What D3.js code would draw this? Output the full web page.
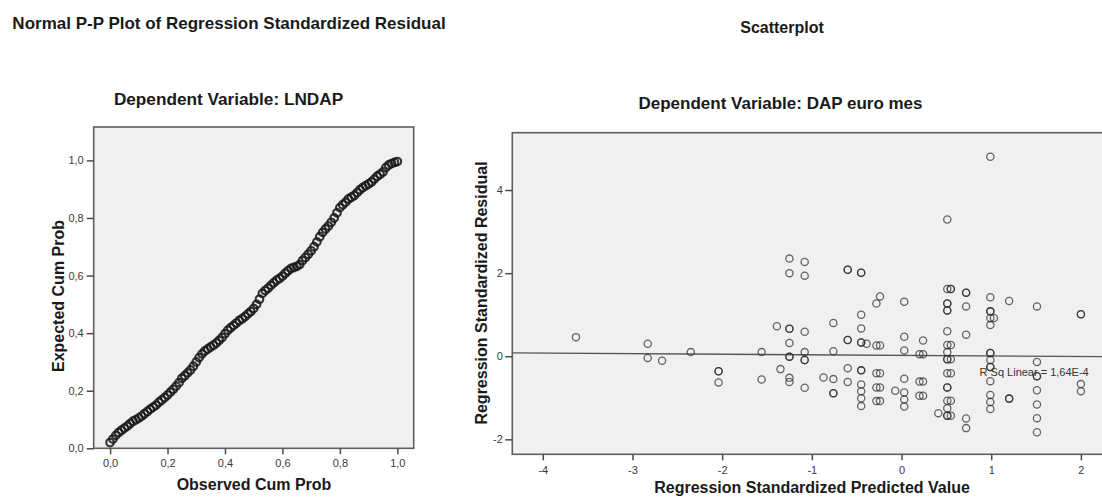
<!DOCTYPE html>
<html><head><meta charset="utf-8">
<script src="https://cdn.jsdelivr.net/npm/d3@7"></script>
<style>
body{margin:0;background:#fff;}
svg{display:block;}
text{font-family:"Liberation Sans",Arial,sans-serif;}
</style></head>
<body>
<svg id="c" width="1102" height="497"></svg>
<script>
// ---------- Data ----------
const ppTitle = "Normal P-P Plot of Regression Standardized Residual";
const ppSubtitle = "Dependent Variable: LNDAP";
const ppXLabel = "Observed Cum Prob";
const ppYLabel = "Expected Cum Prob";
const ppTicks = [0, 0.2, 0.4, 0.6, 0.8, 1.0];
const ppObserved = [0.00,0.01,0.02,0.03,0.04,0.05,0.06,0.07,0.08,0.09,0.10,0.11,0.12,0.13,0.14,0.15,0.16,0.17,0.18,0.19,0.20,0.21,0.22,0.23,0.24,0.25,0.26,0.27,0.28,0.29,0.30,0.31,0.32,0.33,0.34,0.35,0.36,0.37,0.38,0.39,0.40,0.41,0.42,0.43,0.44,0.45,0.46,0.47,0.48,0.49,0.50,0.51,0.52,0.53,0.54,0.55,0.56,0.57,0.58,0.59,0.60,0.61,0.62,0.63,0.64,0.65,0.66,0.67,0.68,0.69,0.70,0.71,0.72,0.73,0.74,0.75,0.76,0.77,0.78,0.79,0.80,0.81,0.82,0.83,0.84,0.85,0.86,0.87,0.88,0.89,0.90,0.91,0.92,0.93,0.94,0.95,0.96,0.97,0.98,0.99,1.00];
const ppExpected = [0.020,0.032,0.045,0.055,0.063,0.070,0.077,0.086,0.094,0.099,0.105,0.112,0.120,0.128,0.136,0.143,0.150,0.160,0.168,0.176,0.185,0.195,0.205,0.216,0.228,0.243,0.252,0.262,0.272,0.285,0.300,0.315,0.328,0.338,0.345,0.352,0.358,0.366,0.375,0.385,0.398,0.410,0.419,0.427,0.435,0.444,0.450,0.458,0.467,0.475,0.486,0.500,0.518,0.538,0.548,0.556,0.566,0.575,0.584,0.590,0.598,0.608,0.617,0.625,0.628,0.632,0.638,0.652,0.663,0.674,0.686,0.700,0.717,0.735,0.750,0.762,0.772,0.785,0.800,0.818,0.836,0.846,0.855,0.866,0.872,0.878,0.888,0.898,0.906,0.912,0.918,0.925,0.935,0.945,0.952,0.960,0.975,0.984,0.989,0.993,0.996];

const scTitle = "Scatterplot";
const scSubtitle = "Dependent Variable: DAP euro mes";
const scXLabel = "Regression Standardized Predicted Value";
const scYLabel = "Regression Standardized Residual";
const scXTicks = [-4, -3, -2, -1, 0, 1, 2];
const scYTicks = [-2, 0, 2, 4];
const scPredicted = [-3.63,-2.83,-2.83,-2.67,-2.35,-2.04,-2.04,-2.04,-1.56,-1.56,-1.39,-1.35,
 -1.25,-1.25,-1.25,-1.25,-1.25,-1.25,-1.25,-1.25,-1.25,
 -1.08,-1.08,-1.08,-1.08,-1.08,-1.08,-1.08,-0.87,
 -0.76,-0.76,-0.76,-0.76,-0.76,
 -0.60,-0.60,-0.60,-0.60,-0.60,-0.60,
 -0.45,-0.45,-0.45,-0.45,-0.45,-0.45,-0.39,-0.45,-0.45,-0.45,-0.45,-0.45,-0.45,
 -0.28,-0.24,-0.28,-0.24,-0.28,-0.24,-0.28,-0.24,-0.28,-0.24,-0.07,
 0.03,0.03,0.03,0.03,0.03,0.03,0.03,
 0.20,0.24,0.24,0.20,0.24,0.20,0.24,0.41,
 0.51,0.51,0.55,0.55,0.51,0.51,0.51,0.51,0.51,0.51,0.55,0.51,0.51,0.51,0.55,0.51,0.55,0.51,0.51,0.51,0.55,0.51,0.51,0.51,0.55,
 0.72,0.72,0.72,0.72,0.72,0.72,
 0.99,0.99,0.99,0.99,0.99,1.03,0.99,0.99,0.99,0.99,0.99,0.99,0.99,0.99,0.99,0.99,
 1.20,1.20,1.20,
 1.51,1.51,1.51,1.51,1.51,1.51,1.51,1.51,
 2.00,2.00,2.00,2.00];
const scResidual = [0.46,0.30,-0.04,-0.11,0.10,-0.36,-0.36,-0.63,0.10,-0.56,0.72,-0.31,
 2.35,2.00,0.66,0.66,0.32,-0.01,-0.01,-0.52,-0.62,
 2.27,1.94,0.59,0.10,-0.09,-0.09,-0.76,-0.51,
 0.80,0.12,-0.55,-0.89,-0.89,
 2.08,2.08,0.39,0.39,-0.29,-0.62,
 2.01,2.01,1.00,0.67,0.33,0.33,0.30,-0.34,-0.34,-0.68,-0.84,-1.01,-1.20,
 1.27,1.44,0.26,0.26,-0.41,-0.41,-0.75,-0.75,-1.08,-1.08,-0.83,
 1.31,0.47,0.14,-0.54,-0.87,-1.04,-1.21,
 0.05,0.05,0.38,-0.61,-0.61,-0.95,-0.95,-1.37,
 3.29,1.62,1.62,1.62,1.27,1.27,1.10,1.10,0.60,0.27,0.27,0.10,-0.07,-0.07,-0.07,-0.41,-0.41,-0.75,-0.75,-1.07,-1.07,-1.25,-1.43,-1.43,-1.43,
 1.53,1.53,1.20,0.52,-1.50,-1.73,
 4.80,1.42,1.08,1.08,0.92,0.92,0.75,0.08,0.08,-0.09,-0.26,-0.26,-0.60,-0.93,-1.10,-1.27,
 1.33,-1.02,-1.02,
 1.20,-0.14,-0.48,-0.48,-0.82,-1.16,-1.49,-1.83,
 1.01,1.01,-0.67,-0.84];
const fitIntercept = 0.02;
const fitSlope = -0.014;
const fitLabel = "R Sq Linear = 1,64E-4";

// ---------- Drawing ----------
const svg = d3.select("#c");
const loc = d3.formatLocale({decimal: ",", thousands: ".", grouping: [3], currency: ["", ""], minus: "-"});
const fmt1 = loc.format(".1f");
const fmt0 = loc.format("d");
const BG = "#f0f0f0", BORDER = "#5e5e5e", TICKTXT = "#3a3a3a";

function styleAxis(g){
  g.select(".domain").remove();
  g.selectAll(".tick line").attr("stroke", "#4a4a4a").attr("stroke-width", 1.5);
  g.selectAll(".tick text").attr("fill", TICKTXT).style("font-size", "11px");
}

// ===== Left: P-P plot =====
const ppX = d3.scaleLinear().domain([-0.057, 1.057]).range([93.7, 413.7]);
const ppY = d3.scaleLinear().domain([0, 1.116]).range([448.3, 127]);

svg.append("text").attr("x", 229).attr("y", 29).attr("text-anchor", "middle")
  .style("font-size", "17px").style("font-weight", "bold").attr("fill", "#1a1a1a").text(ppTitle);
svg.append("text").attr("x", 228.5).attr("y", 105).attr("text-anchor", "middle")
  .style("font-size", "17.2px").style("font-weight", "bold").attr("fill", "#1a1a1a").text(ppSubtitle);

svg.append("rect").attr("x", ppX.range()[0]).attr("y", ppY.range()[1])
  .attr("width", ppX.range()[1] - ppX.range()[0]).attr("height", ppY.range()[0] - ppY.range()[1])
  .attr("fill", BG).attr("stroke", BORDER).attr("stroke-width", 1.6);

svg.append("g").attr("transform", `translate(0,${ppY.range()[0]})`)
  .call(d3.axisBottom(ppX).tickValues(ppTicks).tickSize(6).tickPadding(5).tickFormat(fmt1)).call(styleAxis);
svg.append("g").attr("transform", `translate(${ppX.range()[0]},0)`)
  .call(d3.axisLeft(ppY).tickValues(ppTicks).tickSize(7).tickPadding(3).tickFormat(fmt1)).call(styleAxis);

const ppData = ppObserved.map((o, i) => ({x: o, y: ppExpected[i]}));
svg.append("g").selectAll("circle").data(ppData).join("circle")
  .attr("cx", d => ppX(d.x)).attr("cy", d => ppY(d.y)).attr("r", 3.8)
  .attr("fill", "none").attr("stroke", "#161616").attr("stroke-width", 2.2).attr("stroke-opacity", 0.85);

svg.append("text").attr("x", 254).attr("y", 490).attr("text-anchor", "middle")
  .style("font-size", "16px").style("font-weight", "bold").attr("fill", "#1a1a1a").text(ppXLabel);
svg.append("text").attr("transform", "translate(64,296) rotate(-90)").attr("text-anchor", "middle")
  .style("font-size", "16px").style("font-weight", "bold").attr("fill", "#1a1a1a").text(ppYLabel);

// ===== Right: Scatterplot =====
const scX = d3.scaleLinear().domain([-4.34, 2.35]).range([512.3, 1112.3]);
const scY = d3.scaleLinear().domain([-2.36, 5.38]).range([454.3, 132.7]);

svg.append("text").attr("x", 782).attr("y", 33).attr("text-anchor", "middle")
  .style("font-size", "16px").style("font-weight", "bold").attr("fill", "#1a1a1a").text(scTitle);
svg.append("text").attr("x", 780.5).attr("y", 109).attr("text-anchor", "middle")
  .style("font-size", "17px").style("font-weight", "bold").attr("fill", "#1a1a1a").text(scSubtitle);

svg.append("rect").attr("x", scX.range()[0]).attr("y", scY.range()[1])
  .attr("width", scX.range()[1] - scX.range()[0]).attr("height", scY.range()[0] - scY.range()[1])
  .attr("fill", BG).attr("stroke", BORDER).attr("stroke-width", 1.6);

svg.append("g").attr("transform", `translate(0,${scY.range()[0]})`)
  .call(d3.axisBottom(scX).tickValues(scXTicks).tickSize(6).tickPadding(6).tickFormat(fmt0)).call(styleAxis);
svg.append("g").attr("transform", `translate(${scX.range()[0]},0)`)
  .call(d3.axisLeft(scY).tickValues(scYTicks).tickSize(7).tickPadding(2.5).tickFormat(fmt0)).call(styleAxis);

const [xa, xb] = scX.domain();
svg.append("line")
  .attr("x1", scX(xa)).attr("y1", scY(fitIntercept + fitSlope * xa))
  .attr("x2", scX(xb)).attr("y2", scY(fitIntercept + fitSlope * xb))
  .attr("stroke", "#555").attr("stroke-width", 1.3);

const scData = scPredicted.map((p, i) => ({x: p, y: scResidual[i]}));
svg.append("g").selectAll("circle").data(scData).join("circle")
  .attr("cx", d => scX(d.x)).attr("cy", d => scY(d.y)).attr("r", 3.6)
  .attr("fill", "none").attr("stroke", "#2a2a2a").attr("stroke-width", 1.3).attr("stroke-opacity", 0.7);

svg.append("text").attr("x", scX(0.87)).attr("y", scY(-0.37) + 4).attr("text-anchor", "start")
  .style("font-size", "11px").attr("fill", "#333").text(fitLabel);

svg.append("text").attr("x", 812).attr("y", 493).attr("text-anchor", "middle")
  .style("font-size", "16px").style("font-weight", "bold").attr("fill", "#1a1a1a").text(scXLabel);
svg.append("text").attr("transform", "translate(487,293) rotate(-90)").attr("text-anchor", "middle")
  .style("font-size", "16px").style("font-weight", "bold").attr("fill", "#1a1a1a").text(scYLabel);
</script>
</body></html>
